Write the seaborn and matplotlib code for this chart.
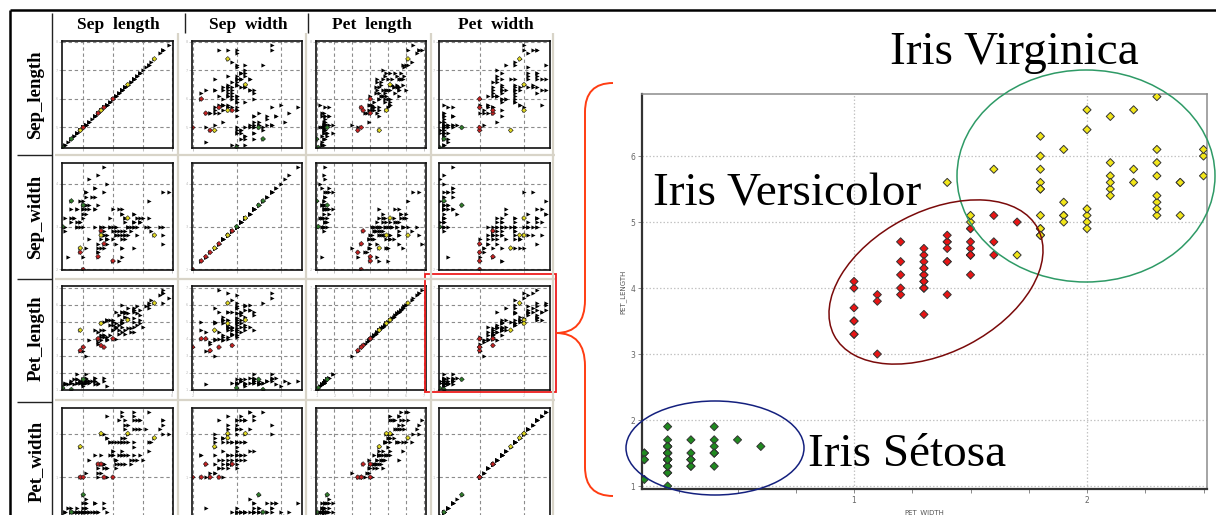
import numpy as np
import pandas as pd
import seaborn as sns
import matplotlib.pyplot as plt
from matplotlib.patches import Ellipse, PathPatch, Rectangle
from matplotlib.path import Path
from matplotlib.ticker import MultipleLocator

# iris measurements, 50 setosa, 50 versicolor, 50 virginica
sep_length = [
    5.1, 4.9, 4.7, 4.6, 5.0, 5.4, 4.6, 5.0, 4.4, 4.9, 5.4, 4.8, 4.8, 4.3, 5.8, 5.7, 5.4, 5.1, 5.7, 5.1,
    5.4, 5.1, 4.6, 5.1, 4.8, 5.0, 5.0, 5.2, 5.2, 4.7, 4.8, 5.4, 5.2, 5.5, 4.9, 5.0, 5.5, 4.9, 4.4, 5.1,
    5.0, 4.5, 4.4, 5.0, 5.1, 4.8, 5.1, 4.6, 5.3, 5.0,
    7.0, 6.4, 6.9, 5.5, 6.5, 5.7, 6.3, 4.9, 6.6, 5.2, 5.0, 5.9, 6.0, 6.1, 5.6, 6.7, 5.6, 5.8, 6.2, 5.6,
    5.9, 6.1, 6.3, 6.1, 6.4, 6.6, 6.8, 6.7, 6.0, 5.7, 5.5, 5.5, 5.8, 6.0, 5.4, 6.0, 6.7, 6.3, 5.6, 5.5,
    5.5, 6.1, 5.8, 5.0, 5.6, 5.7, 5.7, 6.2, 5.1, 5.7,
    6.3, 5.8, 7.1, 6.3, 6.5, 7.6, 4.9, 7.3, 6.7, 7.2, 6.5, 6.4, 6.8, 5.7, 5.8, 6.4, 6.5, 7.7, 7.7, 6.0,
    6.9, 5.6, 7.7, 6.3, 6.7, 7.2, 6.2, 6.1, 6.4, 7.2, 7.4, 7.9, 6.4, 6.3, 6.1, 7.7, 6.3, 6.4, 6.0, 6.9,
    6.7, 6.9, 5.8, 6.8, 6.7, 6.7, 6.3, 6.5, 6.2, 5.9,
]
sep_width = [
    3.5, 3.0, 3.2, 3.1, 3.6, 3.9, 3.4, 3.4, 2.9, 3.1, 3.7, 3.4, 3.0, 3.0, 4.0, 4.4, 3.9, 3.5, 3.8, 3.8,
    3.4, 3.7, 3.6, 3.3, 3.4, 3.0, 3.4, 3.5, 3.4, 3.2, 3.1, 3.4, 4.1, 4.2, 3.1, 3.2, 3.5, 3.6, 3.0, 3.4,
    3.5, 2.3, 3.2, 3.5, 3.8, 3.0, 3.8, 3.2, 3.7, 3.3,
    3.2, 3.2, 3.1, 2.3, 2.8, 2.8, 3.3, 2.4, 2.9, 2.7, 2.0, 3.0, 2.2, 2.9, 2.9, 3.1, 3.0, 2.7, 2.2, 2.5,
    3.2, 2.8, 2.5, 2.8, 2.9, 3.0, 2.8, 3.0, 2.9, 2.6, 2.4, 2.4, 2.7, 2.7, 3.0, 3.4, 3.1, 2.3, 3.0, 2.5,
    2.6, 3.0, 2.6, 2.3, 2.7, 3.0, 2.9, 2.9, 2.5, 2.8,
    3.3, 2.7, 3.0, 2.9, 3.0, 3.0, 2.5, 2.9, 2.5, 3.6, 3.2, 2.7, 3.0, 2.5, 2.8, 3.2, 3.0, 3.8, 2.6, 2.2,
    3.2, 2.8, 2.8, 2.7, 3.3, 3.2, 2.8, 3.0, 2.8, 3.0, 2.8, 3.8, 2.8, 2.8, 2.6, 3.0, 3.4, 3.1, 3.0, 3.1,
    3.1, 3.1, 2.7, 3.2, 3.3, 3.0, 2.5, 3.0, 3.4, 3.0,
]
pet_length = [
    1.4, 1.4, 1.3, 1.5, 1.4, 1.7, 1.4, 1.5, 1.4, 1.5, 1.5, 1.6, 1.4, 1.1, 1.2, 1.5, 1.3, 1.4, 1.7, 1.5,
    1.7, 1.5, 1.0, 1.7, 1.9, 1.6, 1.6, 1.5, 1.4, 1.6, 1.6, 1.5, 1.5, 1.4, 1.5, 1.2, 1.3, 1.4, 1.3, 1.5,
    1.3, 1.3, 1.3, 1.6, 1.9, 1.4, 1.6, 1.4, 1.5, 1.4,
    4.7, 4.5, 4.9, 4.0, 4.6, 4.5, 4.7, 3.3, 4.6, 3.9, 3.5, 4.2, 4.0, 4.7, 3.6, 4.4, 4.5, 4.1, 4.5, 3.9,
    4.8, 4.0, 4.9, 4.7, 4.3, 4.4, 4.8, 5.0, 4.5, 3.5, 3.8, 3.7, 3.9, 5.1, 4.5, 4.5, 4.7, 4.4, 4.1, 4.0,
    4.4, 4.6, 4.0, 3.3, 4.2, 4.2, 4.2, 4.3, 3.0, 4.1,
    6.0, 5.1, 5.9, 5.6, 5.8, 6.6, 4.5, 6.3, 5.8, 6.1, 5.1, 5.3, 5.5, 5.0, 5.1, 5.3, 5.5, 6.7, 6.9, 5.0,
    5.7, 4.9, 6.7, 4.9, 5.7, 6.0, 4.8, 4.9, 5.6, 5.8, 6.1, 6.4, 5.6, 5.1, 5.6, 6.1, 5.6, 5.5, 4.8, 5.4,
    5.6, 5.1, 5.1, 5.9, 5.7, 5.2, 5.0, 5.2, 5.4, 5.1,
]
pet_width = [
    0.2, 0.2, 0.2, 0.2, 0.2, 0.4, 0.3, 0.2, 0.2, 0.1, 0.2, 0.2, 0.1, 0.1, 0.2, 0.4, 0.4, 0.3, 0.3, 0.3,
    0.2, 0.4, 0.2, 0.5, 0.2, 0.2, 0.4, 0.2, 0.2, 0.2, 0.2, 0.4, 0.1, 0.2, 0.2, 0.2, 0.2, 0.1, 0.2, 0.2,
    0.3, 0.3, 0.2, 0.6, 0.4, 0.3, 0.2, 0.2, 0.2, 0.2,
    1.4, 1.5, 1.5, 1.3, 1.5, 1.3, 1.6, 1.0, 1.3, 1.4, 1.0, 1.5, 1.0, 1.4, 1.3, 1.4, 1.5, 1.0, 1.5, 1.1,
    1.8, 1.3, 1.5, 1.2, 1.3, 1.4, 1.4, 1.7, 1.5, 1.0, 1.1, 1.0, 1.2, 1.6, 1.5, 1.6, 1.5, 1.3, 1.3, 1.3,
    1.2, 1.4, 1.2, 1.0, 1.3, 1.2, 1.3, 1.3, 1.1, 1.3,
    2.5, 1.9, 2.1, 1.8, 2.2, 2.1, 1.7, 1.8, 1.8, 2.5, 2.0, 1.9, 2.1, 2.0, 2.4, 2.3, 1.8, 2.2, 2.3, 1.5,
    2.3, 2.0, 2.0, 1.8, 2.1, 1.8, 1.8, 1.8, 2.1, 1.6, 1.9, 2.0, 2.2, 1.5, 1.4, 2.3, 2.4, 1.8, 1.8, 2.1,
    2.4, 2.3, 1.9, 2.3, 2.5, 2.3, 1.9, 2.0, 2.3, 1.8,
]
species_names = ["setosa", "versicolor", "virginica"]
species = [s for s in species_names for _ in range(50)]

# rows shown in colour in the small scatter matrix
mark_green = [13, 22, 43]
mark_red = [57, 60, 62, 53, 64, 79]
mark_yellow = [121, 110, 130, 106]

col_titles = ["Sep  length", "Sep  width", "Pet  length", "Pet  width"]
row_titles = ["Sep_length", "Sep_width", "Pet_length", "Pet_width"]
variables = ["sep_length", "sep_width", "pet_length", "pet_width"]

df = pd.DataFrame({
    "sep_length": sep_length,
    "sep_width": sep_width,
    "pet_length": pet_length,
    "pet_width": pet_width,
    "species": species,
})
df["mark"] = "none"
df.loc[mark_green, "mark"] = "green"
df.loc[mark_red, "mark"] = "red"
df.loc[mark_yellow, "mark"] = "yellow"

W, H = 1216, 515
fig = plt.figure(figsize=(W / 100, H / 100), dpi=100)
fig.patch.set_facecolor("white")


def px_axes(left, top, right, bottom, **kw):
    return fig.add_axes([left / W, 1 - bottom / H, (right - left) / W, (bottom - top) / H], **kw)


# ---- small scatter matrix ----
col_px = [(62, 173), (192, 302), (316, 426), (439, 550)]
row_px = [(41, 148), (163, 270), (286, 390), (408, 517)]
small_pal = {"green": "#2f7d2a", "red": "#c42020", "yellow": "#e0d820"}

for i, yv in enumerate(variables):
    for j, xv in enumerate(variables):
        ax = px_axes(col_px[j][0], row_px[i][0], col_px[j][1], row_px[i][1])
        sns.scatterplot(data=df, x=xv, y=yv, color="black", marker=">", s=9,
                        linewidth=0, ax=ax, legend=False)
        sub = df[df["mark"] != "none"]
        sns.scatterplot(data=sub, x=xv, y=yv, hue="mark", palette=small_pal, marker="D",
                        s=6, edgecolor="#222222", linewidth=0.4, ax=ax, legend=False)
        for v, setter in ((xv, ax.set_xlim), (yv, ax.set_ylim)):
            lo, hi = df[v].min(), df[v].max()
            setter(lo - 0.005 * (hi - lo), hi + 0.035 * (hi - lo))
        ax.xaxis.set_major_locator(MultipleLocator(1))
        ax.yaxis.set_major_locator(MultipleLocator(1))
        ax.grid(True, linestyle=(0, (3, 2.5)), color="#8c8c8c", linewidth=0.8)
        ax.set_axisbelow(True)
        ax.set_xlabel("")
        ax.set_ylabel("")
        ax.tick_params(length=2, width=0.5, color="#aaaaaa", pad=1,
                       labelsize=2.5, labelcolor="#bbbbbb")
        if i != 2:
            ax.set_xticklabels([])
        for sp in ax.spines.values():
            sp.set_color("#111111")
            sp.set_linewidth(1.2)

# ---- large petal scatter ----
big = px_axes(642, 94, 1207, 489)
big_pal = {"setosa": "#1f8a1f", "versicolor": "#e81414", "virginica": "#f2e619"}
sns.scatterplot(data=df, x="pet_width", y="pet_length", hue="species", palette=big_pal,
                marker="D", s=17, edgecolor="#333333", linewidth=0.7, ax=big, legend=False,
                zorder=3)
big.set_xlim(0.09, 2.515)
big.set_ylim(0.955, 6.94)
big.set_xticks([1, 2])
big.set_xticks(np.arange(0.25, 2.51, 0.25), minor=True)
big.set_yticks(range(1, 7))
big.grid(True, which="major", linestyle=(0, (1.2, 1.6)), color="#c4c4c4", linewidth=0.9)
big.set_axisbelow(True)
big.tick_params(which="major", length=3, width=0.6, color="#777777", labelsize=5.5,
                labelcolor="#666666", pad=2)
big.tick_params(which="minor", length=3, width=0.6, color="#777777")
big.set_xlabel("PET_WIDTH", fontsize=5, color="#555555")
big.xaxis.set_label_coords((924 - 642) / (1207 - 642), -0.052)
big.set_ylabel("PET_LENGTH", fontsize=5, color="#555555", labelpad=3)
for side in ("left", "bottom"):
    big.spines[side].set_color("#333333")
    big.spines[side].set_linewidth(1.6)
for side in ("top", "right"):
    big.spines[side].set_color("#8c8c8c")
    big.spines[side].set_linewidth(1.1)

# ---- overlay in pixel coordinates for frames, bracket, ellipses, labels ----
ov = fig.add_axes([0, 0, 1, 1], zorder=10)
ov.set_xlim(0, W)
ov.set_ylim(H, 0)
ov.axis("off")
ov.patch.set_alpha(0)

line_kw = dict(solid_capstyle="butt", clip_on=False)
ov.plot([10, W], [10, 10], color="black", lw=1.8, **line_kw)
ov.plot([10, 10], [10, H], color="black", lw=1.8, **line_kw)
ov.plot([52, 52], [13, H], color="#222222", lw=1.0, **line_kw)
for yy in (155, 279, 402):
    ov.plot([17, 52], [yy, yy], color="#222222", lw=1.0, **line_kw)
for xx in (185, 308):
    ov.plot([xx, xx], [13, 33], color="#222222", lw=1.0, **line_kw)

tan = "#d8d4c8"
for xx in (178, 306, 431, 553):
    ov.plot([xx, xx], [33, H], color=tan, lw=1.6, **line_kw)
for yy in (155, 279, 400):
    ov.plot([55, 555], [yy, yy], color=tan, lw=1.6, **line_kw)

serif = "Liberation Serif"
for j, t in enumerate(col_titles):
    cx = (col_px[j][0] + col_px[j][1]) / 2 + 1
    ov.text(cx, 29, t, ha="center", va="baseline", fontsize=12.5, fontweight="bold",
            family=serif)
for i, t in enumerate(row_titles):
    cy = (row_px[i][0] + min(row_px[i][1], 515)) / 2
    ov.text(36, cy, t, ha="center", va="center", rotation=90, fontsize=13.5,
            fontweight="bold", family=serif)

ov.add_patch(Rectangle((425, 274), 131, 118, fill=False, ec="#ee1c1c", lw=1.3))

brace = Path(
    [(613, 83), (585, 83), (585, 112), (585, 300), (585, 333), (556, 333),
     (585, 333), (585, 366), (585, 467), (585, 496), (613, 496)],
    [Path.MOVETO, Path.CURVE3, Path.CURVE3, Path.LINETO, Path.CURVE3, Path.CURVE3,
     Path.CURVE3, Path.CURVE3, Path.LINETO, Path.CURVE3, Path.CURVE3],
)
ov.add_patch(PathPatch(brace, fill=False, ec="#ff3c12", lw=1.4))

ov.add_patch(Ellipse((1086, 176), 258, 212, fill=False, ec="#2e9a66", lw=1.1))
ov.add_patch(Ellipse((936, 282), 230, 141, angle=-27.6, fill=False, ec="#7a0a0a", lw=1.1))
ov.add_patch(Ellipse((715, 448), 178, 94, fill=False, ec="#14207e", lw=1.1))

ov.text(890, 64, "Iris Virginica", fontsize=34, family=serif, va="baseline")
ov.text(653, 206, "Iris Versicolor", fontsize=34, family=serif, va="baseline")
ov.text(808, 466, "Iris Sétosa", fontsize=34, family=serif, va="baseline")

fig.savefig("out.png", dpi=100, facecolor="white")
